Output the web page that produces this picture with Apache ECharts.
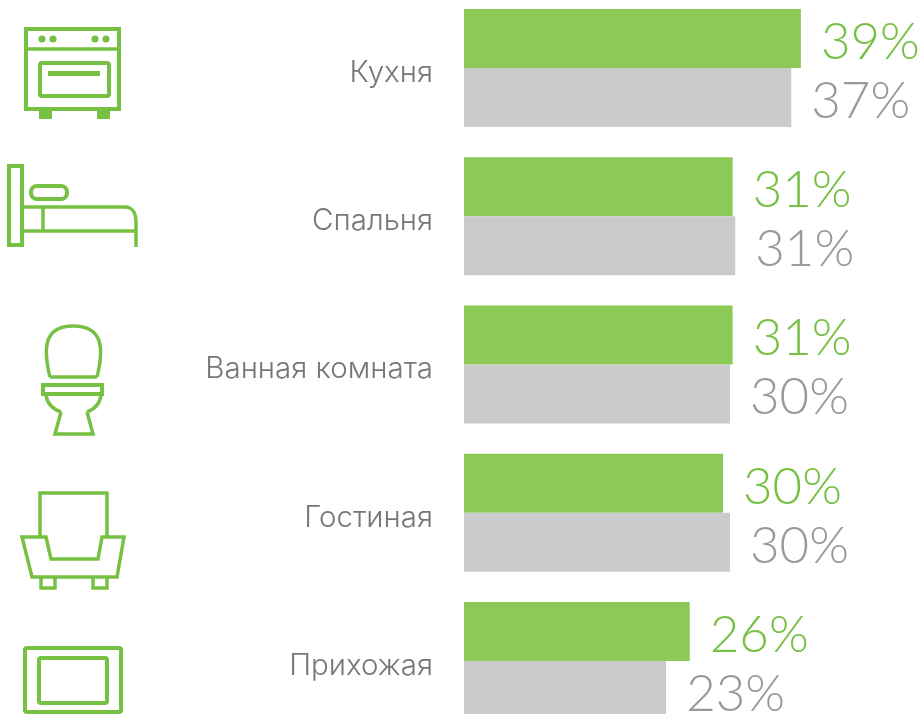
<!DOCTYPE html>
<html>
<head>
<meta charset="utf-8">
<style>
html, body { margin: 0; padding: 0; background: #fff; overflow: hidden; }
#chart { width: 920px; height: 714px; }
</style>
<script src="https://cdn.jsdelivr.net/npm/echarts@6/dist/echarts.min.js"></script>
</head>
<body>
<div id="chart"></div>
<script>
var categories = ['Кухня', 'Спальня', 'Ванная комната', 'Гостиная', 'Прихожая'];
var greenValues = [38.5, 30.7, 30.7, 29.6, 25.8];
var greyValues = [37.4, 31.0, 30.4, 30.4, 23.1];
var greenLabels = ['39%', '31%', '31%', '30%', '26%'];
var greyLabels = ['37%', '31%', '30%', '30%', '23%'];

var GREEN = '#8bca57';
var GREY = '#cbcbcb';
var ICON = '#76c043';

function rect(x, y, w, h, r) {
    return { type: 'rect', shape: { x: x, y: y, width: w, height: h, r: r || 0 },
        style: { fill: 'none', stroke: ICON, lineWidth: 4 } };
}
function solid(x, y, w, h) {
    return { type: 'rect', shape: { x: x, y: y, width: w, height: h }, style: { fill: ICON } };
}
function dot(x, y) {
    return { type: 'circle', shape: { cx: x, cy: y, r: 3.6 }, style: { fill: ICON } };
}
function line(points, closed) {
    return { type: closed ? 'polygon' : 'polyline', shape: { points: points },
        style: { fill: 'none', stroke: ICON, lineWidth: 3.5 } };
}
function curve(x1, y1, cx1, cy1, cx2, cy2, x2, y2) {
    return { type: 'bezierCurve',
        shape: { x1: x1, y1: y1, cpx1: cx1, cpy1: cy1, cpx2: cx2, cpy2: cy2, x2: x2, y2: y2 },
        style: { fill: 'none', stroke: ICON, lineWidth: 3.5 } };
}

var icons = [
    // oven
    rect(26, 29, 93, 80), line([[26, 49], [119, 49]]),
    dot(42, 39), dot(53, 39), dot(95, 39), dot(106, 39),
    rect(40, 63, 69, 33, 2), solid(48, 71, 52, 5),
    solid(39, 110, 13, 9), solid(97, 110, 13, 9),
    // bed
    rect(9, 166, 13, 79), rect(31, 186, 36, 13, 6),
    line([[24, 207], [125, 207]]), curve(125, 207, 132, 207, 136, 213, 136, 222),
    line([[136, 222], [136, 247]]), line([[24, 231], [136, 231]]), line([[43, 207], [43, 231]]),
    // toilet
    curve(50, 377, 42, 345, 46, 326, 73, 326), curve(73, 326, 101, 326, 105, 345, 97, 377),
    line([[50, 377], [97, 377]]), rect(43, 385, 59, 9),
    curve(46, 395, 47, 404, 53, 409, 61, 412), line([[61, 412], [55, 434], [93, 434], [87, 412]]),
    curve(87, 412, 95, 409, 100, 404, 101, 395),
    // armchair
    line([[40, 537], [40, 493], [107, 493], [107, 537]]),
    line([[22, 537], [46, 537], [51, 559], [98, 559], [102, 537], [124, 537], [117, 577], [32, 577]], true),
    line([[41, 577], [41, 588], [55, 588], [55, 577]]), line([[93, 577], [93, 588], [107, 588], [107, 577]]),
    // hallway
    rect(25, 648, 96, 64, 2), rect(39, 658, 68, 45, 2)
];

var chart = echarts.init(document.getElementById('chart'));
chart.setOption({
    animation: false,
    grid: { left: 464, top: -6, width: 455, height: 741, outerBoundsMode: 'none' },
    xAxis: { type: 'value', min: 0, max: 52, show: false },
    yAxis: {
        type: 'category',
        data: categories,
        inverse: true,
        axisLine: { show: false },
        axisTick: { show: false },
        axisLabel: {
            margin: 31,
            formatter: '{name|{value}}',
            rich: {
                name: {
                    color: '#777777', fontFamily: 'Inter', fontWeight: 300, fontSize: 29.5,
                    padding: [10, 0, 0, 0]
                }
            }
        }
    },
    graphic: { elements: icons },
    series: [
        {
            type: 'bar', data: greenValues, barWidth: 59, barGap: 0,
            itemStyle: { color: GREEN },
            label: {
                show: true, position: 'right', distance: 20, offset: [0, 4], color: ICON,
                fontFamily: 'Lato', fontWeight: 300, fontSize: 51,
                formatter: function (p) { return greenLabels[p.dataIndex]; }
            }
        },
        {
            type: 'bar', data: greyValues, barWidth: 59, barGap: 0,
            itemStyle: { color: GREY },
            label: {
                show: true, position: 'right', distance: 20, offset: [0, 4], color: '#999999',
                fontFamily: 'Lato', fontWeight: 300, fontSize: 51,
                formatter: function (p) { return greyLabels[p.dataIndex]; }
            }
        }
    ]
});
</script>
</body>
</html>
